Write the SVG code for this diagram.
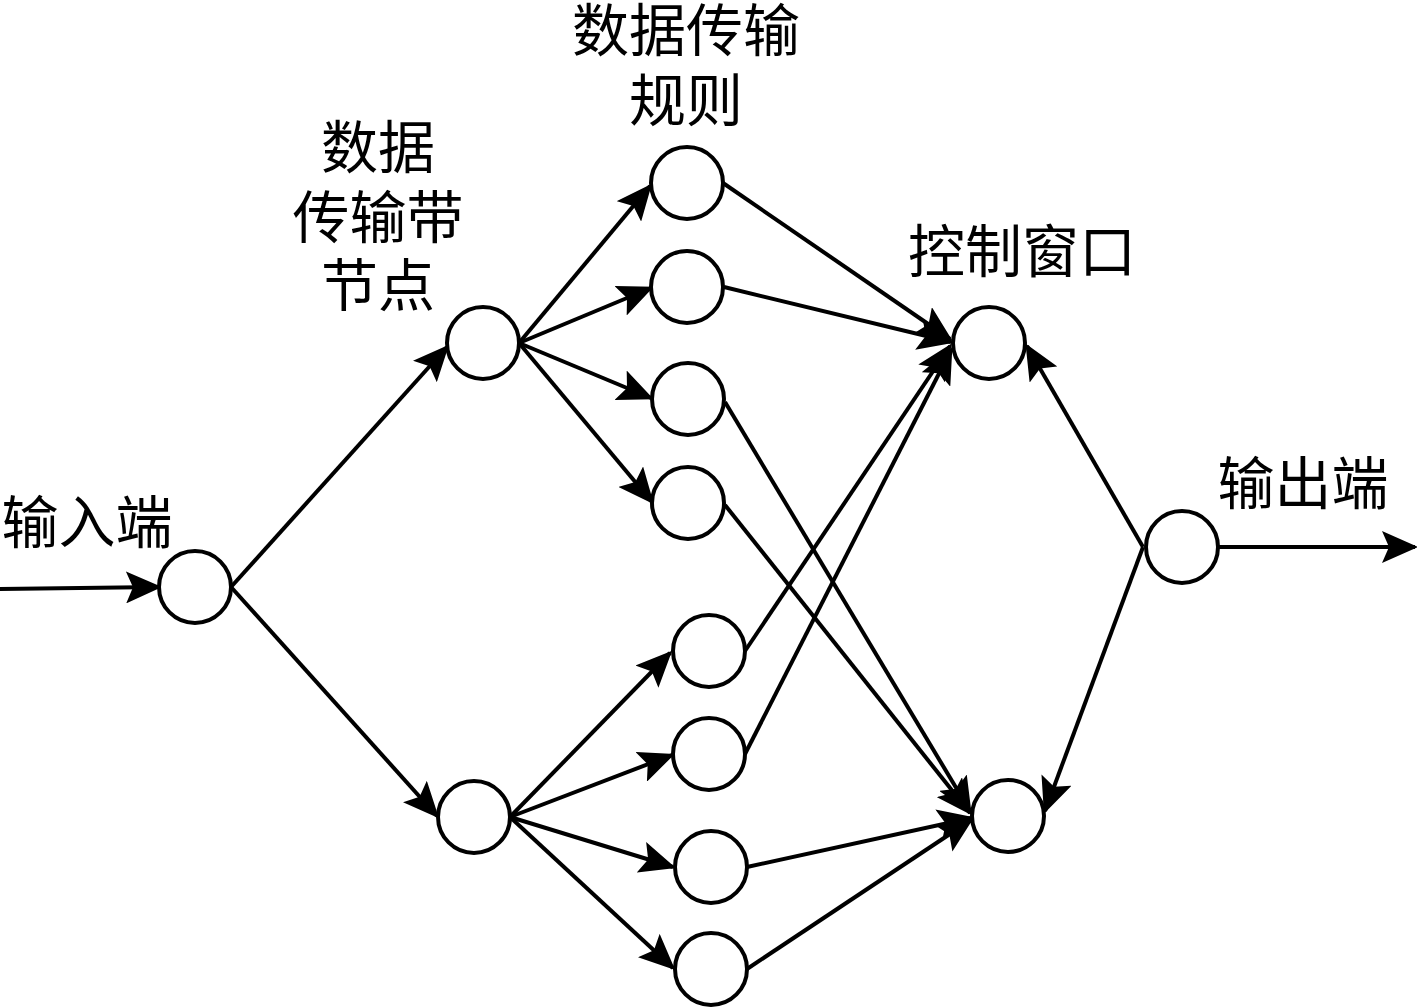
<svg xmlns="http://www.w3.org/2000/svg" width="1417" height="1008" viewBox="0 0 1417 1008">
<style>
.n{fill:#fff;stroke:#000;stroke-width:4}
.e{stroke:#000;stroke-width:4;fill:none;marker-end:url(#ah)}
.l{stroke:#000;stroke-width:4;fill:none}
text{font-family:"Noto Sans CJK SC","Noto Sans CJK JP",serif;font-size:57px;fill:#000;text-anchor:middle}
</style>
<defs>
<marker id="ah" markerUnits="userSpaceOnUse" viewBox="0 0 36 32" markerWidth="36" markerHeight="32" refX="33" refY="16" orient="auto">
<path d="M0,0 L36,16 L0,32 L7,16 z" fill="#000"/>
</marker>
</defs>
<rect width="1417" height="1008" fill="#fff"/>
<g id="connectors">
<line class="e" x1="0" y1="589" x2="159" y2="587"/>
<line class="e" x1="231" y1="587" x2="447" y2="347"/>
<line class="e" x1="231" y1="587" x2="437" y2="816"/>
<line class="e" x1="519" y1="343" x2="650" y2="186"/>
<line class="e" x1="519" y1="343" x2="651" y2="288"/>
<line class="e" x1="519" y1="343" x2="651" y2="398"/>
<line class="e" x1="519" y1="343" x2="652" y2="502"/>
<line class="e" x1="510" y1="817" x2="670" y2="653"/>
<line class="e" x1="510" y1="817" x2="672" y2="755"/>
<line class="e" x1="510" y1="817" x2="673" y2="867"/>
<line class="e" x1="510" y1="817" x2="673" y2="968"/>
<line class="e" x1="723" y1="183" x2="950" y2="339"/>
<line class="e" x1="724" y1="287" x2="951" y2="342"/>
<line class="e" x1="745" y1="651" x2="950" y2="346"/>
<line class="e" x1="745" y1="754" x2="951" y2="350"/>
<line class="e" x1="725" y1="402" x2="970" y2="811"/>
<line class="e" x1="725" y1="505" x2="970" y2="813"/>
<line class="e" x1="747" y1="867" x2="971" y2="818"/>
<line class="e" x1="747" y1="969" x2="971" y2="820"/>
<line class="e" x1="1143" y1="547" x2="1027" y2="346"/>
<line class="e" x1="1143" y1="547" x2="1045" y2="811"/>
<line class="e" x1="1218" y1="547" x2="1415" y2="547"/>
</g>
<g id="input"><circle class="n" cx="195" cy="587" r="36"/><text x="87" y="543">输入端</text></g>
<g id="band-upper"><circle class="n" cx="483" cy="343" r="36"/></g>
<g id="band-lower"><circle class="n" cx="474" cy="817" r="36"/></g>
<g id="band-label"><text x="378" y="168">数据</text><text x="378" y="238">传输带</text><text x="378" y="306">节点</text></g>
<g id="rule-label"><text x="686" y="51">数据传输</text><text x="686" y="121">规则</text></g>
<g id="rule1"><circle class="n" cx="687" cy="183" r="36"/></g>
<g id="rule2"><circle class="n" cx="687" cy="287" r="36"/></g>
<g id="rule3"><circle class="n" cx="688" cy="399" r="36"/></g>
<g id="rule4"><circle class="n" cx="688" cy="503" r="36"/></g>
<g id="rule5"><circle class="n" cx="709" cy="651" r="36"/></g>
<g id="rule6"><circle class="n" cx="709" cy="754" r="36"/></g>
<g id="rule7"><circle class="n" cx="711" cy="867" r="36"/></g>
<g id="rule8"><circle class="n" cx="711" cy="969" r="36"/></g>
<g id="control-upper"><circle class="n" cx="989" cy="343" r="36"/><text x="1022" y="272">控制窗口</text></g>
<g id="control-lower"><circle class="n" cx="1008" cy="816" r="36"/></g>
<g id="output"><circle class="n" cx="1182" cy="547" r="36"/><text x="1303" y="504">输出端</text></g>
</svg>
